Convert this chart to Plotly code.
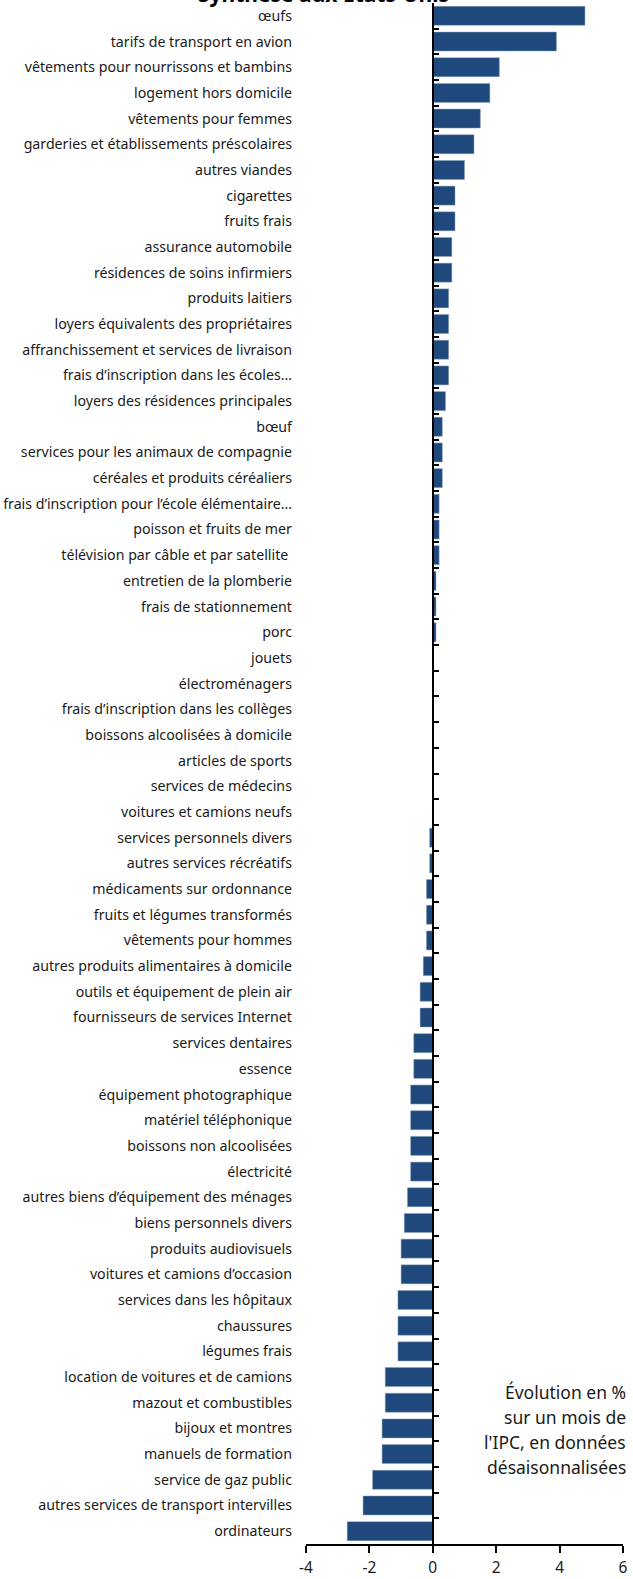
import plotly.graph_objects as go

categories = [
    "œufs",
    "tarifs de transport en avion",
    "vêtements pour nourrissons et bambins",
    "logement hors domicile",
    "vêtements pour femmes",
    "garderies et établissements préscolaires",
    "autres viandes",
    "cigarettes",
    "fruits frais",
    "assurance automobile",
    "résidences de soins infirmiers",
    "produits laitiers",
    "loyers équivalents des propriétaires",
    "affranchissement et services de livraison",
    "frais d’inscription dans les écoles…",
    "loyers des résidences principales",
    "bœuf",
    "services pour les animaux de compagnie",
    "céréales et produits céréaliers",
    "frais d’inscription pour l’école élémentaire…",
    "poisson et fruits de mer",
    "télévision par câble et par satellite ",
    "entretien de la plomberie",
    "frais de stationnement",
    "porc",
    "jouets",
    "électroménagers",
    "frais d’inscription dans les collèges",
    "boissons alcoolisées à domicile",
    "articles de sports",
    "services de médecins",
    "voitures et camions neufs",
    "services personnels divers",
    "autres services récréatifs",
    "médicaments sur ordonnance",
    "fruits et légumes transformés",
    "vêtements pour hommes",
    "autres produits alimentaires à domicile",
    "outils et équipement de plein air",
    "fournisseurs de services Internet",
    "services dentaires",
    "essence",
    "équipement photographique",
    "matériel téléphonique",
    "boissons non alcoolisées",
    "électricité",
    "autres biens d’équipement des ménages",
    "biens personnels divers",
    "produits audiovisuels",
    "voitures et camions d’occasion",
    "services dans les hôpitaux",
    "chaussures",
    "légumes frais",
    "location de voitures et de camions",
    "mazout et combustibles",
    "bijoux et montres",
    "manuels de formation",
    "service de gaz public",
    "autres services de transport intervilles",
    "ordinateurs",
]

values = [
    4.8, 3.9, 2.1, 1.8, 1.5, 1.3, 1.0, 0.7, 0.7, 0.6,
    0.6, 0.5, 0.5, 0.5, 0.5, 0.4, 0.3, 0.3, 0.3, 0.2,
    0.2, 0.2, 0.1, 0.1, 0.1, 0.0, 0.0, 0.0, 0.0, 0.0,
    0.0, 0.0, -0.1, -0.1, -0.2, -0.2, -0.2, -0.3, -0.4, -0.4,
    -0.6, -0.6, -0.7, -0.7, -0.7, -0.7, -0.8, -0.9, -1.0, -1.0,
    -1.1, -1.1, -1.1, -1.5, -1.5, -1.6, -1.6, -1.9, -2.2, -2.7,
]

x_ticks = [-4, -2, 0, 2, 4, 6]
x_tick_text = ["-4", "-2", "0", "2", "4", "6"]
x_range = [-4, 6]

title_text = "Synthèse aux États-Unis"
note_lines = ["Évolution en %", "sur un mois de", "l'IPC, en données", "désaisonnalisées"]

FONT = "Noto Sans"
BAR_COLOR = "#1f497d"

W, H = 633, 1579
M_L, M_R, M_T, M_B = 306, 10, 3, 35
PLOT_W = W - M_L - M_R
PLOT_H = H - M_T - M_B

fig = go.Figure()
fig.add_trace(go.Bar(
    x=values,
    y=categories,
    orientation="h",
    marker=dict(color=BAR_COLOR, line=dict(color="#8aa0bd", width=0.5)),
    hoverinfo="x+y",
))

zero_pos = (0 - x_range[0]) / (x_range[1] - x_range[0])

fig.update_layout(
    width=W,
    height=H,
    margin=dict(l=M_L, r=M_R, t=M_T, b=M_B, autoexpand=False),
    paper_bgcolor="white",
    plot_bgcolor="white",
    showlegend=False,
    bargap=0.26,
    font=dict(family=FONT, color="#1a1a1a", size=14),
    xaxis=dict(
        range=x_range,
        tickvals=x_ticks,
        ticktext=x_tick_text,
        ticks="outside",
        ticklen=7,
        tickwidth=1.5,
        tickcolor="black",
        showline=True,
        linecolor="black",
        linewidth=2,
        showgrid=False,
        zeroline=False,
        automargin=False,
        ticklabelstandoff=1,
        tickfont=dict(size=15.5, family=FONT),
    ),
    yaxis=dict(
        type="category",
        categoryorder="array",
        categoryarray=categories,
        autorange="reversed",
        anchor="free",
        position=zero_pos,
        showline=True,
        linecolor="black",
        linewidth=2,
        ticks="inside",
        tickson="boundaries",
        ticklen=5,
        tickwidth=1.5,
        tickcolor="black",
        showgrid=False,
        zeroline=False,
        automargin=False,
        ticklabelstandoff=137,
        tickfont=dict(size=14.2, family=FONT),
    ),
)

fig.add_annotation(
    text="<b>" + title_text + "</b>",
    xref="paper", yref="paper",
    x=(323 - M_L) / PLOT_W, y=1,
    xanchor="center", yanchor="bottom",
    yshift=-7,
    showarrow=False,
    font=dict(size=21, family=FONT, color="black"),
)

for i, line in enumerate(note_lines):
    y_px = 1392 + 25 * i
    fig.add_annotation(
        text=line,
        xref="paper", yref="paper",
        x=1 + 5 / PLOT_W, y=(H - M_B - y_px) / PLOT_H,
        xanchor="right", yanchor="middle",
        align="right",
        showarrow=False,
        font=dict(size=17.5, family=FONT, color="#1a1a1a"),
    )

fig.write_html(
    "out.html",
    config={"displayModeBar": False},
    post_script="document.body.style.margin='0';document.body.style.overflow='hidden';",
)
